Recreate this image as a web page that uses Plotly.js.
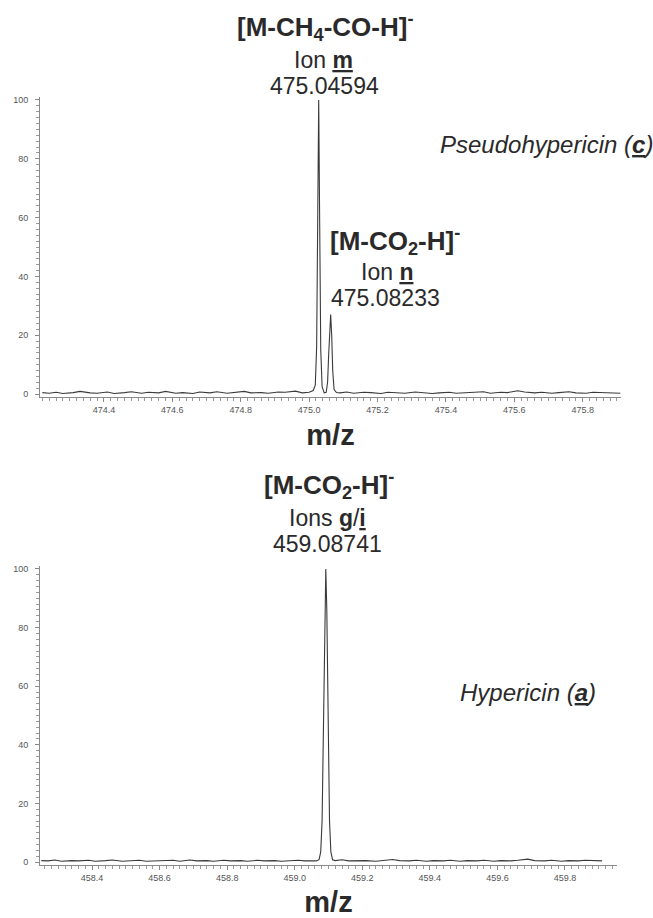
<!DOCTYPE html>
<html>
<head>
<meta charset="utf-8">
<script src="https://cdn.plot.ly/plotly-3.0.1.min.js"></script>
<style>html,body{margin:0;padding:0;background:#fff;}#chart{width:653px;height:918px;}</style>
</head>
<body>
<div id="chart"></div>
<script>
// Pseudohypericin (c) spectrum, m/z 474.2 - 475.9
const topMz = [474.22,474.24,474.26,474.28,474.31,474.33,474.36,474.38,474.41,474.43,474.46,474.48,474.51,474.53,474.56,474.58,474.61,474.63,474.66,474.68,474.71,474.73,474.76,474.78,474.81,474.83,474.86,474.88,474.91,474.93,474.96,474.98,475.000,
  475.012,475.018,475.022,475.025,475.028,475.031,475.034,475.038,475.044,475.050,475.054,475.057,475.060,475.063,475.066,475.069,475.073,475.080,
  475.09,475.11,475.13,475.16,475.18,475.21,475.23,475.26,475.28,475.31,475.33,475.36,475.38,475.41,475.43,475.46,475.48,475.51,475.53,475.56,475.58,475.61,475.63,475.66,475.68,475.71,475.73,475.76,475.78,475.81,475.83,475.86,475.88,475.91];
const topIntensity = [0.5,0.3,0.6,0.2,0.5,0.9,0.4,0.3,0.7,0.2,0.5,0.8,0.3,0.6,0.4,0.9,0.3,0.5,0.2,0.7,0.4,0.8,0.3,0.6,0.9,0.4,0.5,0.3,0.7,0.6,1.0,0.4,0.6,
  1.2,3.0,16,58,100,56,15,2.5,0.4,0.6,4,13,24,27,20,8,1.5,0.5,
  0.4,0.7,0.3,0.6,0.5,0.2,0.6,0.4,0.3,0.7,0.5,0.2,0.4,0.6,0.3,0.5,0.4,0.8,0.3,0.6,0.5,1.1,0.7,0.4,0.6,0.3,0.5,0.8,0.4,0.3,0.6,0.5,0.4,0.3];

// Hypericin (a) spectrum, m/z 458.25 - 459.95
const botMz = [458.25,458.27,458.29,458.31,458.34,458.36,458.39,458.41,458.44,458.46,458.49,458.51,458.54,458.56,458.59,458.61,458.64,458.66,458.69,458.71,458.74,458.76,458.79,458.81,458.84,458.86,458.89,458.91,458.94,458.96,458.99,459.01,459.03,459.05,459.064,
  459.072,459.077,459.081,459.085,459.089,459.092,459.095,459.099,459.103,459.107,459.112,
  459.12,459.14,459.16,459.19,459.21,459.24,459.26,459.29,459.31,459.34,459.36,459.39,459.41,459.44,459.46,459.49,459.51,459.54,459.56,459.59,459.61,459.64,459.66,459.69,459.71,459.74,459.76,459.79,459.81,459.84,459.86,459.89,459.91,459.95];
const botIntensity = [0.5,0.4,0.7,0.3,0.5,0.4,0.6,0.3,0.5,0.7,0.3,0.4,0.6,0.3,0.5,0.4,0.6,0.3,0.7,0.4,0.5,0.3,0.6,0.4,0.5,0.3,0.6,0.4,0.5,0.3,0.4,0.6,0.4,0.5,0.4,
  0.8,3.5,14,48,86,100,86,48,14,3.5,0.8,
  0.5,0.8,0.4,0.6,0.5,0.3,0.6,0.9,0.5,0.4,0.6,0.3,0.5,0.4,0.6,0.3,0.5,0.4,0.6,0.3,0.5,0.4,0.6,1.0,0.5,0.4,0.6,0.3,0.5,0.4,0.6,0.5,0.4];

const topTitleLines = ['<b>[M-CH<sub>4</sub>-CO-H]<sup>-</sup></b>', 'Ion <b><u>m</u></b>', '475.04594'];
const topSecondLines = ['<b>[M-CO<sub>2</sub>-H]<sup>-</sup></b>', 'Ion <b><u>n</u></b>', '475.08233'];
const botTitleLines = ['<b>[M-CO<sub>2</sub>-H]<sup>-</sup></b>', 'Ions <b><u>g</u></b>/<b><u>i</u></b>', '459.08741'];
const topCompound = '<i>Pseudohypericin (<b><u>c</u></b>)</i>';
const botCompound = '<i>Hypericin (<b><u>a</u></b>)</i>';
const xTitle = '<b>m/z</b>';

const FONT = 'Arial, "Liberation Sans", sans-serif';
const axisCommon = {
  showline: true, linecolor: '#8a8a8a', linewidth: 1,
  ticks: 'outside', ticklen: 4, tickwidth: 1, tickcolor: '#8a8a8a',
  showgrid: false, zeroline: false,
  tickfont: {family: FONT, size: 9, color: '#555'}
};

const traces = [
  {x: topMz, y: topIntensity, type: 'scatter', mode: 'lines', line: {color: '#3a3a3a', width: 1.1}, xaxis: 'x', yaxis: 'y', hoverinfo: 'x+y'},
  {x: botMz, y: botIntensity, type: 'scatter', mode: 'lines', line: {color: '#3a3a3a', width: 1.1}, xaxis: 'x2', yaxis: 'y2', hoverinfo: 'x+y'}
];

function ann(text, x, y, size, extra) {
  return Object.assign({text: text, xref: 'paper', yref: 'paper', x: x, y: y, xanchor: 'center', yanchor: 'middle',
    showarrow: false, font: {family: FONT, size: size, color: '#2a2a2a'}}, extra || {});
}
const H = 918, W = 653;
const annotations = [
  ann(topTitleLines[0], 325/W, 1-27/H, 26),
  ann(topTitleLines[1], 323/W, 1-60/H, 23),
  ann(topTitleLines[2], 324/W, 1-86/H, 23),
  ann(topCompound, 655/W, 1-144/H, 24, {xanchor: 'right'}),
  ann(topSecondLines[0], 395/W, 1-241/H, 26),
  ann(topSecondLines[1], 387/W, 1-272/H, 23),
  ann(topSecondLines[2], 386/W, 1-298/H, 23),
  ann(botTitleLines[0], 329/W, 1-485/H, 26),
  ann(botTitleLines[1], 328/W, 1-518/H, 23),
  ann(botTitleLines[2], 328/W, 1-544/H, 23),
  ann(botCompound, 528/W, 1-692/H, 24)
];

const layout = {
  width: W, height: H,
  margin: {l: 0, r: 0, t: 0, b: 0},
  paper_bgcolor: '#fff', plot_bgcolor: '#fff',
  showlegend: false,
  xaxis: Object.assign({}, axisCommon, {domain: [40/W, 621/W], range: [474.213, 475.912], anchor: 'y',
    dtick: 0.2, tick0: 474, tickformat: '.1f',
    minor: {dtick: 0.02, ticklen: 3, tickcolor: '#999', ticks: 'outside'},
    title: {text: xTitle, font: {family: FONT, size: 29, color: '#2a2a2a'}, standoff: 10}}),
  yaxis: Object.assign({}, axisCommon, {domain: [1-397/H, 1-97/H], range: [-1, 101], anchor: 'x',
    dtick: 20, tick0: 0, ticklabelstandoff: 5, minor: {dtick: 2, ticklen: 3, tickcolor: '#999', ticks: 'outside'}}),
  xaxis2: Object.assign({}, axisCommon, {domain: [40/W, 617/W], range: [458.246, 459.954], anchor: 'y2',
    dtick: 0.2, tick0: 458, tickformat: '.1f',
    minor: {dtick: 0.02, ticklen: 3, tickcolor: '#999', ticks: 'outside'},
    title: {text: xTitle, font: {family: FONT, size: 29, color: '#2a2a2a'}, standoff: 12}}),
  yaxis2: Object.assign({}, axisCommon, {domain: [1-865/H, 1-566/H], range: [-1, 101], anchor: 'x2',
    dtick: 20, tick0: 0, ticklabelstandoff: 5, minor: {dtick: 2, ticklen: 3, tickcolor: '#999', ticks: 'outside'}}),
  annotations: annotations
};

Plotly.newPlot('chart', traces, layout, {displayModeBar: false, staticPlot: true});
</script>
</body>
</html>
